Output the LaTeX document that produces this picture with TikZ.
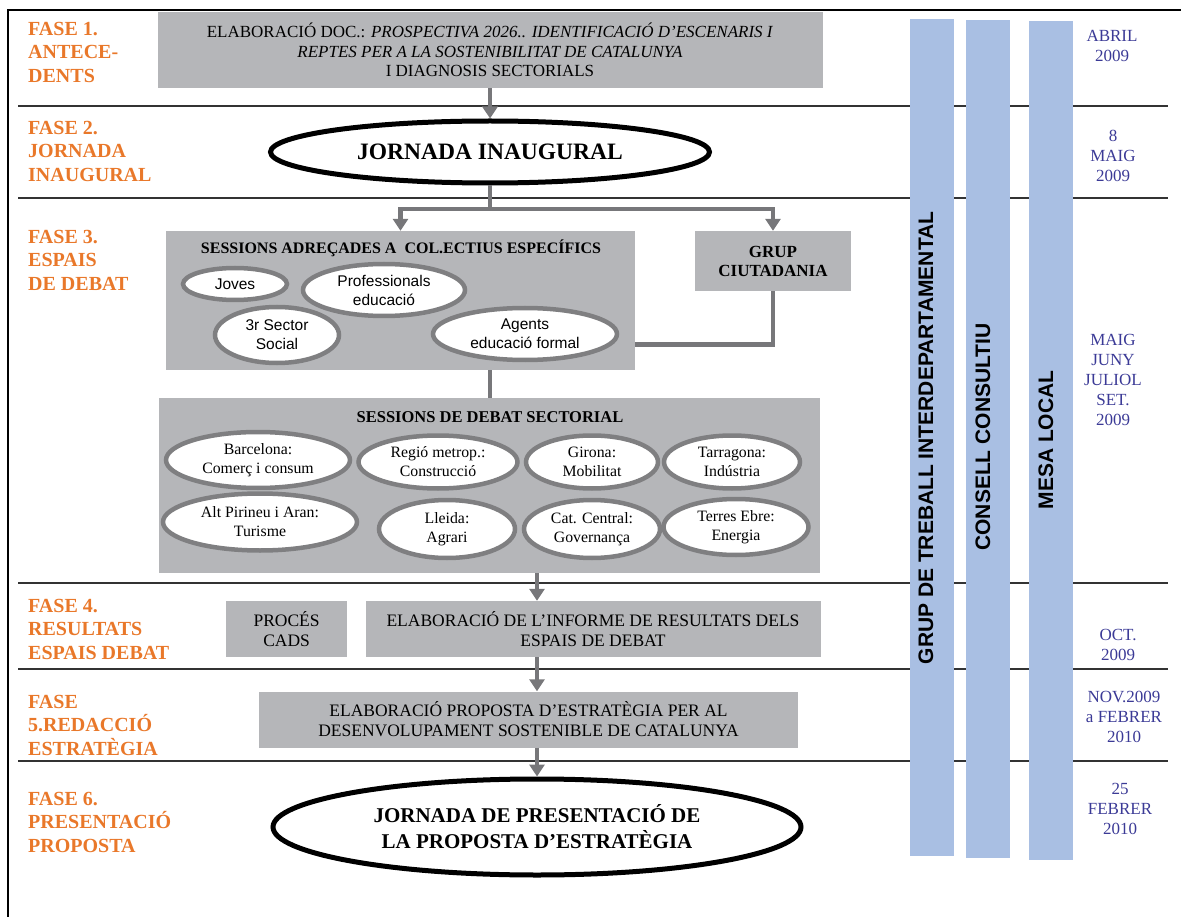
\documentclass[tikz,border=0pt]{standalone}
\usepackage{fontspec}
\setmainfont{Liberation Serif}
\setsansfont{Liberation Sans}
\usetikzlibrary{arrows.meta, positioning, shapes.geometric}

\definecolor{faseorange}{HTML}{E9782A}
\definecolor{boxgray}{HTML}{B5B6B9}
\definecolor{ringgray}{HTML}{7F7F81}
\definecolor{flowgray}{HTML}{77777A}
\definecolor{barblue}{HTML}{A9BFE3}
\definecolor{datetext}{HTML}{3B3A96}

\begin{document}
\begin{tikzpicture}[
        x=1pt, y=-1pt,
        fase/.style={anchor=north west, inner sep=0pt, align=left, text=faseorange, font=\fontsize{20}{23.5}\selectfont\bfseries},
        graybox/.style={fill=boxgray, inner sep=0pt, align=center, font=\fontsize{17.5}{20}\selectfont},
        boxtitle/.style={inner sep=0pt, font=\fontsize{16.5}{19}\selectfont\bfseries},
        bigring/.style={ellipse, draw=black, line width=5pt, fill=white, inner sep=0pt, align=center, font=\fontsize{22}{26}\selectfont\bfseries},
        ring/.style={ellipse, draw=ringgray, line width=4.5pt, fill=white, inner sep=0pt, align=center, font=\fontsize{15.8}{19}\selectfont},
        sansring/.style={ring, font=\sffamily\fontsize{15.5}{19}\selectfont},
        bar/.style={fill=barblue, inner sep=0pt, minimum width=44pt},
        bartext/.style={rotate=90, inner sep=0pt, font=\sffamily\bfseries\fontsize{21}{24}\selectfont},
        date/.style={anchor=north, inner sep=0pt, align=center, text=datetext, font=\fontsize{17}{20}\selectfont},
        flow/.style={draw=flowgray, line width=4.5pt, -{Triangle[width=15pt, length=12pt]}},
        link/.style={draw=flowgray, line width=4.5pt},
        divider/.style={draw=black!80, line width=1.5pt},
    ]
    \useasboundingbox (0,0) rectangle (1181,917);

    % frame and phase rows
    \draw[black, line width=2pt] (8,917) -- (8,10) -- (1181,10);
    \foreach \y in {106,198,583,669,761}
        \draw[divider] (18,\y) -- (1168,\y);

    % phase names
    \node[fase] (f1) at (28,22) {FASE 1.\\ANTECE-\\DENTS};
    \node[fase] (f2) at (28,121) {FASE 2.\\JORNADA\\INAUGURAL};
    \node[fase] (f3) at (28,230) {FASE 3.\\ESPAIS\\DE DEBAT};
    \node[fase] (f4) at (28,599) {FASE 4.\\RESULTATS\\ESPAIS DEBAT};
    \node[fase] (f5) at (28,695) {FASE\\5.REDACCIÓ\\ESTRATÈGIA};
    \node[fase] (f6) at (28,792) {FASE 6.\\PRESENTACIÓ\\PROPOSTA};

    % fase 1 and 2
    \node[graybox, minimum width=665pt, minimum height=76pt, font=\fontsize{17}{19.5}\selectfont] (antec) at (490,50)
        {ELABORACIÓ DOC.: \textit{PROSPECTIVA 2026.. IDENTIFICACIÓ D’ESCENARIS I}\\
         \textit{REPTES PER A LA SOSTENIBILITAT DE CATALUNYA}\\I DIAGNOSIS SECTORIALS};
    \node[bigring, minimum width=439pt, minimum height=62pt, font=\fontsize{23.5}{28}\selectfont\bfseries] (jorn) at (490,152) {JORNADA INAUGURAL};

    % fase 3: debate spaces
    \node[graybox, minimum width=469pt, minimum height=139pt] (sess) at (400.5,300.5) {};
    \node[boxtitle, font=\fontsize{16}{19}\selectfont\bfseries] (sesstitle) at (401,248) {SESSIONS ADREÇADES A\ \ COL.ECTIUS ESPECÍFICS};
    \node[sansring, minimum width=104pt, minimum height=32pt] (joves) at (235,284) {Joves};
    \node[sansring, minimum width=162pt, minimum height=52pt] (profs) at (384,290) {Professionals\\educació};
    \node[sansring, minimum width=124pt, minimum height=56pt] (tercer) at (277,335) {3r Sector\\Social};
    \node[sansring, minimum width=184pt, minimum height=52pt] (agents) at (525,334) {Agents\\educació formal};

    \node[graybox, minimum width=156pt, minimum height=60pt, font=\fontsize{17}{19}\selectfont\bfseries] (grup) at (773,261) {GRUP\\CIUTADANIA};

    \node[graybox, minimum width=661pt, minimum height=175pt] (sect) at (489.5,485.5) {};
    \node[boxtitle] (secttitle) at (490,417) {SESSIONS DE DEBAT SECTORIAL};
    \node[ring, minimum width=184pt, minimum height=56pt] (bcn) at (258,460) {Barcelona:\\Comerç i consum};
    \node[ring, minimum width=159pt, minimum height=53pt] (metro) at (438,462) {Regió metrop.:\\Construcció};
    \node[ring, minimum width=132pt, minimum height=53pt] (gir) at (592,462) {Girona:\\Mobilitat};
    \node[ring, minimum width=136pt, minimum height=53pt] (tgn) at (732,462) {Tarragona:\\Indústria};
    \node[ring, minimum width=194pt, minimum height=57pt] (pirineu) at (260,522) {Alt Pirineu i Aran:\\Turisme};
    \node[ring, minimum width=136pt, minimum height=58pt] (lleida) at (447,529) {Lleida:\\Agrari};
    \node[ring, minimum width=136pt, minimum height=58pt] (central) at (592,529) {Cat. Central:\\Governança};
    \node[ring, minimum width=145pt, minimum height=56pt] (ebre) at (736,527) {Terres Ebre:\\Energia};

    % fase 4, 5 and 6
    \node[graybox, minimum width=455pt, minimum height=56pt] (informe) at (593,629)
        {ELABORACIÓ DE L’INFORME DE RESULTATS DELS\\ESPAIS DE DEBAT};
    \node[graybox, minimum width=121pt, minimum height=56pt, left=18pt of informe] (cads) {PROCÉS\\CADS};
    \node[graybox, minimum width=539pt, minimum height=56pt] (redac) at (528.5,719.5)
        {ELABORACIÓ PROPOSTA D’ESTRATÈGIA PER AL\\DESENVOLUPAMENT SOSTENIBLE DE CATALUNYA};
    \node[bigring, minimum width=528pt, minimum height=96pt, font=\fontsize{21}{26}\selectfont\bfseries] (final) at (537,827)
        {JORNADA DE PRESENTACIÓ DE\\LA PROPOSTA D’ESTRATÈGIA};

    % connectors
    \coordinate (fork) at (490,209);
    \coordinate (spine) at (537,0);
    \draw[flow] (antec.south) -- (jorn.north);
    \draw[link] (jorn.south) -- (fork);
    \draw[flow] (fork) -| (sess.north);
    \draw[flow] (fork) -| (grup.north);
    \draw[link] (grup.south) |- ([yshift=-44pt]sess.east);
    \draw[link] (sess.south -| fork) -- (sect.north -| fork);
    \draw[flow] (sect.south -| spine) -- (informe.north -| spine);
    \draw[flow] (informe.south -| spine) -- (redac.north -| spine);
    \draw[flow] (redac.south -| spine) -- (final.north);

    % participation bodies
    \node[bar, minimum height=837pt] (gti) at (932,437.5) {};
    \node[bar, minimum height=838pt] (cons) at (988,439) {};
    \node[bar, minimum height=839pt] (mesa) at (1051,440.5) {};
    \node[bartext] (gtitext) at (926,438) {GRUP DE TREBALL INTERDEPARTAMENTAL};
    \node[bartext] (constext) at (983,437) {CONSELL CONSULTIU};
    \node[bartext] (mesatext) at (1046,440) {MESA LOCAL};

    % dates
    \node[date] (d1) at (1112,30) {ABRIL\\2009};
    \node[date] (d2) at (1113,130) {8\\MAIG\\2009};
    \node[date] (d3) at (1113,334) {MAIG\\JUNY\\JULIOL\\SET.\\2009};
    \node[date] (d4) at (1118,629) {OCT.\\2009};
    \node[date] (d5) at (1124,691) {NOV.2009\\a FEBRER\\2010};
    \node[date] (d6) at (1120,783) {25\\FEBRER\\2010};

\end{tikzpicture}
\end{document}
